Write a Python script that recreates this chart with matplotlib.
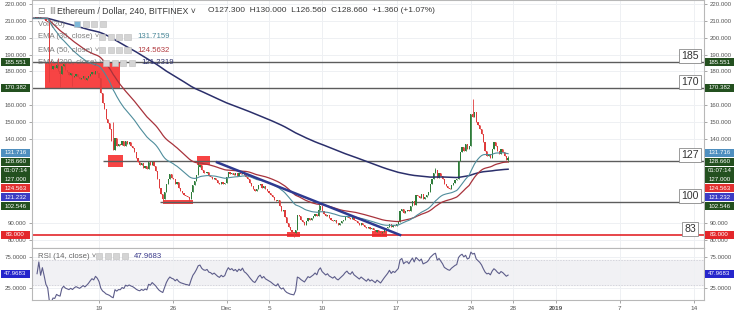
import numpy as np
import pandas as pd
import matplotlib
matplotlib.use("Agg")
import matplotlib.pyplot as plt
import matplotlib.dates as mdates
from matplotlib.patches import Rectangle

plt.rcParams['font.family'] = ['Liberation Sans', 'DejaVu Sans']

# ---- data: ETH/USD 4h closes, one row per day, first bar 2018-11-12 20:00
first_bar = "2018-11-12 20:00"
daily_closes = [
    [211.5],                                        # Nov 12
    [212.0, 211.5, 212.0, 211.4, 211.9, 211.3],     # Nov 13
    [210.2, 209.5, 186.0, 181.5, 183.5, 182.0],     # Nov 14
    [184.0, 180.5, 178.5, 183.0, 184.5, 181.0],     # Nov 15
    [179.5, 178.0, 178.8, 176.5, 177.5, 178.2],     # Nov 16
    [176.8, 175.5, 176.2, 177.0, 175.2, 176.0],     # Nov 17
    [177.0, 178.3, 179.5, 178.5, 180.5, 179.0],     # Nov 18
    [176.0, 167.0, 161.0, 157.5, 152.0, 149.5],     # Nov 19
    [146.0, 139.0, 133.5, 140.5, 135.5, 137.0],     # Nov 20
    [136.5, 138.5, 136.0, 139.0, 137.0, 138.0],     # Nov 21
    [136.0, 134.5, 132.0, 128.5, 126.0, 124.5],     # Nov 22
    [125.5, 123.0, 124.0, 122.0, 126.0, 124.5],     # Nov 23
    [126.5, 124.0, 121.0, 116.0, 111.0, 107.5],     # Nov 24
    [104.5, 108.5, 113.0, 116.5, 119.0, 117.0],     # Nov 25
    [116.0, 113.0, 114.5, 111.0, 109.0, 108.0],     # Nov 26
    [107.0, 106.0, 105.5, 104.5, 108.5, 112.5],     # Nov 27
    [115.0, 118.5, 123.5, 124.5, 121.5, 120.0],     # Nov 28
    [119.5, 120.5, 118.0, 117.5, 116.0, 117.0],     # Nov 29
    [115.5, 114.0, 113.0, 114.5, 113.2, 114.0],     # Nov 30
    [117.5, 120.5, 119.0, 120.0, 118.5, 119.5],     # Dec 1
    [118.0, 120.0, 119.0, 121.0, 118.5, 117.5],     # Dec 2
    [116.0, 114.0, 112.0, 110.0, 109.0, 110.5],     # Dec 3
    [112.5, 113.5, 111.0, 112.0, 110.0, 109.0],     # Dec 4
    [108.0, 107.0, 105.5, 104.0, 103.0, 104.0],     # Dec 5
    [100.0, 97.5, 98.0, 93.5, 90.0, 88.0],          # Dec 6
    [86.0, 85.0, 84.0, 86.0, 95.0, 94.0],           # Dec 7
    [92.0, 90.5, 89.0, 91.0, 93.0, 92.0],           # Dec 8
    [93.0, 94.0, 95.5, 94.0, 98.0, 100.0],          # Dec 9
    [97.0, 95.5, 94.0, 95.0, 93.0, 92.0],           # Dec 10
    [91.0, 92.0, 90.0, 89.0, 90.0, 91.0],           # Dec 11
    [92.0, 93.5, 94.5, 93.0, 92.5, 94.0],           # Dec 12
    [92.0, 91.0, 90.0, 89.0, 90.0, 89.0],           # Dec 13
    [88.0, 87.0, 88.0, 86.5, 87.0, 86.0],           # Dec 14
    [85.0, 86.0, 85.0, 84.0, 85.0, 86.0],           # Dec 15
    [87.0, 88.0, 89.5, 88.0, 89.0, 88.5],           # Dec 16
    [89.5, 90.5, 97.0, 98.5, 96.0, 97.5],           # Dec 17
    [98.0, 97.0, 100.0, 103.0, 101.0, 107.0],       # Dec 18
    [106.0, 105.0, 107.5, 104.5, 105.5, 106.5],     # Dec 19
    [108.5, 113.0, 116.0, 119.5, 121.5, 117.0],     # Dec 20
    [120.0, 118.0, 116.0, 113.0, 112.0, 111.0],     # Dec 21
    [110.5, 112.5, 114.0, 115.5, 116.5, 127.0],     # Dec 22
    [132.0, 135.0, 133.0, 137.0, 134.0, 136.0],     # Dec 23
    [155.0, 153.0, 156.0, 150.0, 148.0, 146.0],     # Dec 24
    [143.0, 138.0, 133.0, 130.0, 131.0, 128.5],     # Dec 25
    [134.0, 138.0, 136.0, 133.0, 131.0, 134.0],     # Dec 26
    [132.5, 130.0, 127.3, 128.66],                  # Dec 27
]
wick_highs = {"2018-11-15 04:00": 188.0, "2018-11-20 08:00": 150.0,
              "2018-11-28 08:00": 126.0, "2018-12-09 16:00": 102.5,
              "2018-12-20 16:00": 122.7, "2018-12-24 04:00": 163.5,
              "2018-12-27 12:00": 130.0}
wick_lows = {"2018-11-14 08:00": 174.0, "2018-11-15 08:00": 171.0,
             "2018-11-16 12:00": 171.5, "2018-11-25 00:00": 102.5,
             "2018-11-27 12:00": 103.0, "2018-12-07 08:00": 82.0,
             "2018-12-15 12:00": 83.0, "2018-12-27 12:00": 126.56}

levels = [185.551, 170.382, 127.0, 102.546, 83.0]
level_names = ["185", "170", "127", "100", "83"]
level_starts = ["2018-11-12", "2018-11-12", "2018-11-19 09:00", "2018-11-24 18:00", "2018-11-12"]
level_colors = ['#5c5c5c', '#5c5c5c', '#5c5c5c', '#5c5c5c', '#e3262a']

zones = [  # start, end, low, high
    ("2018-11-13 22:00", "2018-11-20 23:00", 170.382, 185.551),
    ("2018-11-19 20:00", "2018-11-21 06:00", 123.3, 130.4),
    ("2018-11-28 05:00", "2018-11-29 11:00", 124.5, 129.8),
    ("2018-11-25 00:30", "2018-11-27 20:00", 101.4, 103.7),
    ("2018-12-06 16:30", "2018-12-07 22:00", 81.6, 85.0),
    ("2018-12-14 16:30", "2018-12-16 02:30", 82.0, 85.4),
]
trend_dates = ["2018-11-30 02:30", "2018-12-17 08:00"]
trend_prices = [126.1, 83.0]

ema_last = [131.7159, 124.5632, 121.2319]
rsi_last = 47.9683
ohlc_text = "O127.300  H130.000  L126.560  C128.660  +1.360 (+1.07%)"

tick_dates = ["2018-11-19", "2018-11-26", "2018-12-01", "2018-12-05", "2018-12-10",
              "2018-12-17", "2018-12-24", "2018-12-28", "2019-01-01", "2019-01-07", "2019-01-14"]
tick_names = ["19", "26", "Dec", "5", "10", "17", "24", "28", "2019", "7", "14"]
price_ticks = [80, 90, 140, 150, 160, 180, 190, 200, 210, 220]

# ---- series
closes = pd.Series([c for day in daily_closes for c in day])
times = pd.date_range(first_bar, periods=len(closes), freq="4h")
closes.index = times
opens = closes.shift(1).fillna(closes.iloc[0])
opens.iloc[-1] = 127.3
highs = np.maximum(opens, closes)
lows = np.minimum(opens, closes)
for k, v in wick_highs.items():
    highs[pd.Timestamp(k)] = v
for k, v in wick_lows.items():
    lows[pd.Timestamp(k)] = v

ema30 = closes.ewm(span=30, adjust=False).mean()
ema50 = closes.ewm(span=50, adjust=False).mean()
ema200 = closes.ewm(span=200, adjust=False).mean()

delta = closes.diff()
up = delta.clip(lower=0).ewm(alpha=1 / 14, adjust=True).mean()
dn = (-delta.clip(upper=0)).ewm(alpha=1 / 14, adjust=True).mean()
rsi = (100 - 100 / (1 + up / dn)).iloc[2:]

# ---- figure
W, H = 736, 312
fig = plt.figure(figsize=(W / 100, H / 100), dpi=100)


def fx(px):
    return px / W


def fy(py):
    return 1 - py / H


ax = fig.add_axes([fx(32), fy(248), fx(672), 248 / H])
rx = fig.add_axes([fx(32), fy(300), fx(672), 52 / H], sharex=ax)

x0 = pd.Timestamp("2018-11-19") - pd.Timedelta(days=6.31)
x1 = pd.Timestamp("2018-11-19") + pd.Timedelta(days=56.94)
ax.set_xlim(x0, x1)
ax.set_ylim(220 - 244 / 1.686, 220 + 4 / 1.686)
rx.set_ylim(6.5, 88.8)

grid_c = '#eef0f3'
for a in (ax, rx):
    for s in a.spines.values():
        s.set_color('#b8b8b8')
        s.set_linewidth(0.8)
    a.set_xticks(pd.to_datetime(tick_dates))
    a.grid(True, color=grid_c, linewidth=0.7)
    a.set_axisbelow(True)
    a.tick_params(axis='y', which='both', left=True, right=True, labelleft=True,
                  labelright=True, direction='out', length=2.5, width=0.6,
                  color='#999999', labelsize=4.4, labelcolor='#555555', pad=1.5)

ax.set_yticks(price_ticks)
ax.yaxis.set_major_formatter(plt.FormatStrFormatter('%.3f'))
ax.tick_params(axis='x', bottom=False, labelbottom=False)
rx.set_yticks([25, 75])
rx.yaxis.set_major_formatter(plt.FormatStrFormatter('%.4f'))
rx.set_xticklabels(tick_names)
rx.tick_params(axis='x', length=2, width=0.6, color='#999999', labelsize=4.6,
               labelcolor='#555555', pad=2)
for lab in rx.get_xticklabels():
    if lab.get_text() == "2019":
        lab.set_fontweight('bold')

# zones
for s, e, lo, hi in zones:
    s_n, e_n = mdates.date2num(pd.Timestamp(s)), mdates.date2num(pd.Timestamp(e))
    ax.add_patch(Rectangle((s_n, lo), e_n - s_n, hi - lo, facecolor='#f73434',
                           edgecolor='none', alpha=0.92, zorder=2))

# levels
for lv, st, col in zip(levels, level_starts, level_colors):
    ax.hlines(lv, pd.Timestamp(st), x1, color=col,
              linewidth=1.0 if col != '#e3262a' else 1.2, zorder=2.5)
for lv, name in zip(levels, level_names):
    ax.text(pd.Timestamp("2019-01-13 15:00"), lv + 0.6, name, ha='center', va='bottom',
            fontsize=7.6, color='#333333', zorder=6,
            bbox=dict(boxstyle='square,pad=0.18', fc='white', ec='#8a8a8a', lw=0.6))

# candles
up_c, dn_c = '#2f7d3a', '#df3c3c'
cols = np.where(closes >= opens, up_c, dn_c)
ax.vlines(times, lows, highs, colors=cols, linewidth=0.6, zorder=3)
body = np.maximum((closes - opens).abs(), 0.35)
ax.bar(times, body, bottom=np.minimum(opens, closes), width=0.11, color=cols,
       linewidth=0, zorder=3.2)

# emas and trend line
ax.plot(times, ema200, color='#2b2f6b', linewidth=1.1, zorder=4)
ax.plot(times, ema50, color='#a8333c', linewidth=0.9, zorder=4)
ax.plot(times, ema30, color='#4f8d9c', linewidth=0.8, zorder=4)
ax.plot(pd.to_datetime(trend_dates), trend_prices, color='#2e3a90', linewidth=1.8, zorder=4.5)

# rsi pane
rx.axhspan(30, 70, color='#f1f1f4', zorder=0)
rx.axhline(70, color='#c9c9d2', linewidth=0.5, linestyle=(0, (2, 2)))
rx.axhline(30, color='#c9c9d2', linewidth=0.5, linestyle=(0, (2, 2)))
rx.plot(rsi.index, rsi, color='#5d5d8a', linewidth=0.8, zorder=3)

# legend block
tcol = '#3a3a3a'
fig.text(fx(37), fy(11), "\u229f", fontsize=6.5, color='#888888', va='center', family='DejaVu Sans')
fig.text(fx(49), fy(11), "\u2162", fontsize=6, color='#888888', va='center', family='DejaVu Sans')
fig.text(fx(57), fy(11), "Ethereum / Dollar, 240, BITFINEX \u02c5", fontsize=6.3, color=tcol, va='center')
fig.text(fx(208), fy(11), ohlc_text, fontsize=6.05, color=tcol, va='center')

rows = [("Vol (20)", 24, 74, None, None),
        ("EMA (30, close) \u02c5", 37, 99, ema_last[0], '#4a8798'),
        ("EMA (50, close) \u02c5", 50, 99, ema_last[1], '#b23a3f'),
        ("EMA (200, close) \u02c5", 63, 103, ema_last[2], '#2b2f6b')]
for name, py, icon_x, val, vcol in rows:
    fig.text(fx(38), fy(py), name, fontsize=5.6, color='#666666', alpha=0.85, va='center')
    for i in range(4):
        fc = '#7fb8d8' if (val is None and i == 0) else '#d4d4d4'
        fig.add_artist(Rectangle((fx(icon_x + i * 8.5), fy(py + 3)), fx(6), 6 / H,
                                 transform=fig.transFigure, fc=fc, ec='#bdbdbd', lw=0.4))
    if val is not None:
        fig.text(fx(icon_x + 38), fy(py), f"{val:.4f}", fontsize=5.6, color=vcol, va='center')
fig.text(fx(38), fy(256), "RSI (14, close) \u02c5", fontsize=5.6, color='#666666', va='center')
for i in range(4):
    fig.add_artist(Rectangle((fx(96 + i * 8.5), fy(259)), fx(6), 6 / H,
                             transform=fig.transFigure, fc='#d4d4d4', ec='#bdbdbd', lw=0.4))
fig.text(fx(134), fy(256), f"{rsi_last:.4f}", fontsize=5.6, color='#3a3a8a', va='center')


# axis price tags
def tag(py, text, col):
    for left in (fx(1), fx(705)):
        fig.add_artist(Rectangle((left, fy(py + 4)), fx(29), 8 / H,
                                 transform=fig.transFigure, fc=col, ec='none', zorder=5))
        fig.text(left + fx(14.5), fy(py), text, fontsize=4.4, color='white',
                 ha='center', va='center', zorder=6)


def price_px(p):
    return 4 + (220 - p) * 1.686


green = '#23501f'
tag(price_px(levels[0]), f"{levels[0]:.3f}", green)
tag(price_px(levels[1]), f"{levels[1]:.3f}", green)
stack = [(f"{ema_last[0]:.3f}", '#4f8fbf'), (f"{closes.iloc[-1]:.3f}", green),
         ("01:07:14", green), (f"{levels[2]:.3f}", green),
         (f"{ema_last[1]:.3f}", '#e2302f'), (f"{ema_last[2]:.3f}", '#3c3cc4'),
         (f"{levels[3]:.3f}", green)]
for i, (t, c) in enumerate(stack):
    tag(152.7 + i * 8.9, t, c)
tag(price_px(levels[4]), f"{levels[4]:.3f}", '#e3262a')
tag(256.7 + (75 - rsi_last) * 0.632, f"{rsi_last:.4f}", '#2626cc')

fig.savefig("out.png", dpi=100)
